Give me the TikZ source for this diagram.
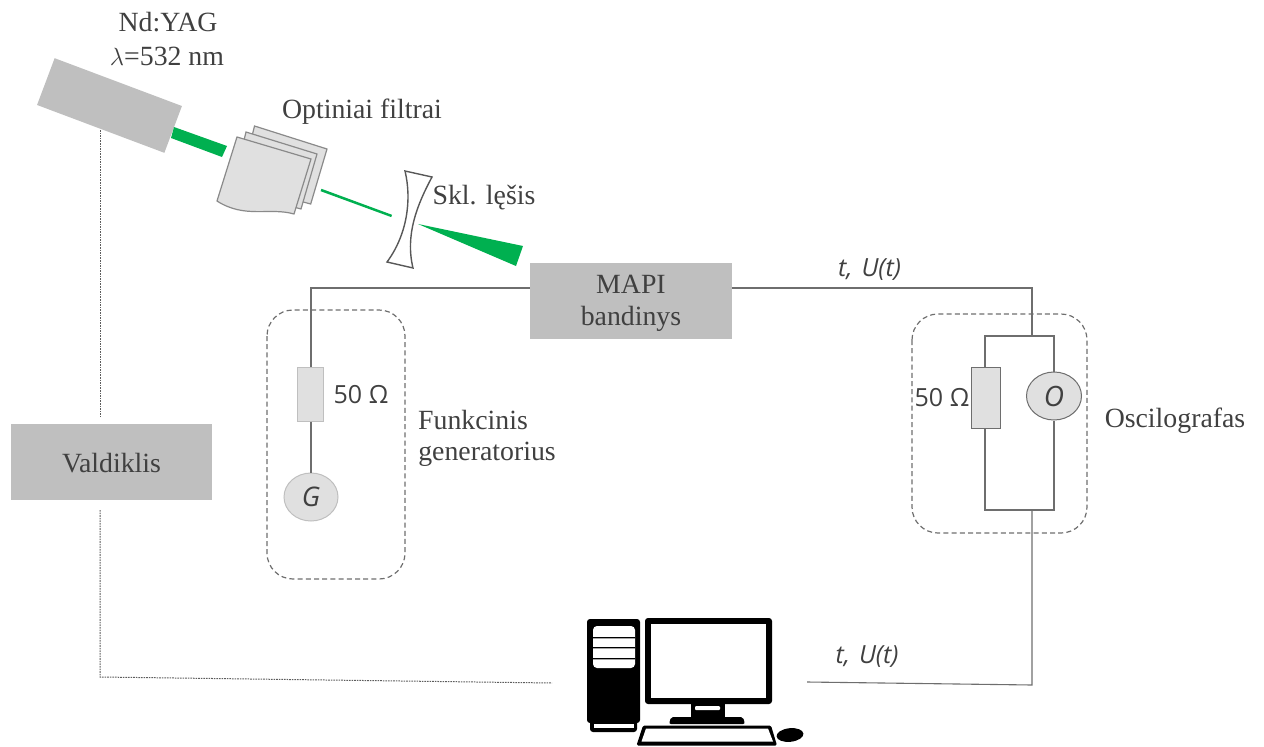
\documentclass[tikz,border=0pt]{standalone}
\usepackage{fontspec}
\setmainfont{Liberation Serif}
\newfontfamily\labsans{Open Sans}
\usetikzlibrary{shapes.geometric}
\definecolor{boxgrey}{HTML}{BFBFBF}
\definecolor{lightgrey}{HTML}{E0E0E0}
\definecolor{beam}{HTML}{00B050}
\definecolor{wire}{HTML}{6E6E6E}
\definecolor{edgegrey}{HTML}{8A8A8A}
\definecolor{txt}{HTML}{404040}
\tikzset{
  x=1pt,y=-1pt,
  serif/.style={text=txt,font=\fontsize{27.8}{33}\selectfont,align=center,inner sep=0pt},
  sanslab/.style={text=txt,font=\labsans\fontsize{25}{28}\selectfont,inner sep=0pt},
  sansit/.style={text=txt,font=\labsans\itshape\fontsize{25}{28}\selectfont,inner sep=0pt},
  greybox/.style={fill=boxgrey,draw=none,inner sep=0pt},
  wireline/.style={draw=wire,line width=1.1pt},
  dotline/.style={draw=wire!85!black,line width=1pt,dash pattern=on 1.6pt off 1pt},
  groupbox/.style={draw=wire,line width=1.2pt,dash pattern=on 5pt off 3.2pt,rounded corners=26pt},
  resistor/.style={fill=lightgrey,inner sep=0pt},
  source/.style={ellipse,fill=lightgrey,inner sep=0pt},
  filterpage/.style={fill=lightgrey,draw=edgegrey,line width=1.2pt},
  greenbeam/.style={fill=beam,draw=none},
}
\begin{document}
\begin{tikzpicture}
\useasboundingbox (0,0) rectangle (1264,747);
% group outlines
\draw[groupbox] (267,310) rectangle (405,579);
\draw[groupbox] (912,314) rectangle (1087,533);
% laser and beam
\node[fill=boxgrey,minimum width=136pt,minimum height=50pt,inner sep=0pt,rotate=-20.6] (laser) at (109.5,105.5) {};
\fill[greenbeam] (174,127) -- (227,146) -- (222,157) -- (171,138) -- cycle;
% filters
\draw[filterpage] (254.5,126) -- (327,149) -- (310.7,204) -- (240,185) -- cycle;
\draw[filterpage] (246,132) -- (317,154) -- (301,209) -- (232,190) -- cycle;
\draw[filterpage] (237,137) -- (311,159) -- (294,214) .. controls (270,207) and (245,219) .. (217,201) -- cycle;
\fill[greenbeam] (321.5,188.8) -- (392,214.8) -- (391.2,217.1) -- (320.6,191.2) -- cycle;
% lens
\draw[fill=white,draw=wire!80!black,line width=1.4pt] (405,171) -- (432,177) .. controls (417,205) and (405,235) .. (413,268) -- (387,262) .. controls (407,235) and (412,200) .. (405,171) -- cycle;
\fill[greenbeam] (418,224) -- (523,246) -- (516,266) -- cycle;
% boxes
\node[greybox,minimum width=202pt,minimum height=76pt] (mapi) at (631,301) {};
\node[greybox,minimum width=201pt,minimum height=76pt] (valdiklis) at (111.5,462) {};
\node[serif] (mapitext) at (631,284) {MAPI};
\node[serif] (bandinys) at (631,318.5) {bandinys};
\node[serif] (valdtext) at (111.5,463) {Valdiklis};
% generator branch
\node[resistor,draw=boxgrey,line width=1pt,minimum width=26pt,minimum height=54pt] (rg) at (310,394) {};
\node[source,draw=boxgrey,line width=1pt,minimum width=54pt,minimum height=48pt,font=\labsans\itshape\fontsize{27}{28}\selectfont,text=txt] (g) at (311,497) {G};
% oscilloscope branch
\node[resistor,draw=wire,line width=1pt,minimum width=29pt,minimum height=61pt] (ro) at (985.5,397.5) {};
\node[source,draw=wire,line width=1pt,minimum width=55pt,minimum height=48pt,font=\labsans\itshape\fontsize{28}{28}\selectfont,text=txt] (o) at (1054,396) {O};
% named junctions
\coordinate (gcorner) at (311,288);
\coordinate (ocorner) at (1032,288);
\coordinate (otop) at (1032,336);
\coordinate (obot) at (1032,510);
\coordinate (tl) at (985,336);
\coordinate (tr) at (1054,336);
\coordinate (bl) at (985,510);
\coordinate (br) at (1054,510);
\coordinate (pcin) at (1032,685);
\coordinate (pcwire) at (807,682);
\coordinate (laserdrop) at (100,130);
\coordinate (vtop) at (100,417);
\coordinate (vbot) at (100,510);
\coordinate (dotcorner) at (100,677);
\coordinate (dotend) at (552,683);
% wires
\draw[wireline] (mapi.west |- gcorner) -- (gcorner) -- (rg.north -| gcorner);
\draw[wireline] (rg.south -| g.north) -- (g.north);
\draw[wireline] (mapi.east |- ocorner) -- (ocorner) -- (otop);
\draw[wireline] (ro.north -| tl) -- (tl) -- (tr) -- (o.north);
\draw[wireline] (ro.south -| bl) -- (bl) -- (br) -- (o.south);
\draw[wireline] (obot) -- (pcin) -- (pcwire);
\draw[dotline] (laserdrop) -- (vtop);
\draw[dotline] (vbot) -- (dotcorner) -- (dotend);
% computer
\fill[black,rounded corners=3pt] (587,619) rectangle (640,723);
\fill[black,rounded corners=3pt] (590,720) rectangle (637,732);
\fill[white,rounded corners=4pt] (593,626) rectangle (635,668);
\fill[black] (593,637) rectangle (635,638.4) (593,647) rectangle (635,648.4) (593,658) rectangle (635,659.4);
\fill[white] (594,724) rectangle (634,728);
\fill[black,rounded corners=3pt] (645,618) rectangle (772,704);
\fill[white] (651,624) rectangle (766,698);
\fill[black] (691,704) rectangle (725,717);
\fill[white,rounded corners=1pt] (695,706) rectangle (720,710);
\fill[black,rounded corners=2pt] (671,717) -- (743,717) -- (745,724) -- (669,724) -- cycle;
\fill[black,rounded corners=1.5pt] (643,725.5) -- (771,725.5) -- (777,745.5) -- (636.5,745.5) -- cycle;
\fill[white] (646,728.5) -- (768,728.5) -- (773,741.5) -- (641.5,741.5) -- cycle;
\fill[black,rotate around={6:(790,735)}] (790,735) ellipse [x radius=13.5pt,y radius=6.8pt];
% labels
\node[serif] (ndyag) at (168,22) {Nd:YAG};
\node[serif] (lambda) at (167,56) {$\lambda$=532 nm};
\node[serif] (optiniai) at (362,112) {Optiniai filtrai};
\node[serif] (sklesis) at (484,198) {Skl. lęšis};
\node[serif] (funk) at (473,420) {Funkcinis};
\node[serif] (gener) at (487,454) {generatorius};
\node[serif] (oscil) at (1175,421) {Oscilografas};
\node[sanslab] (r50g) at (361,395) {50 Ω};
\node[sanslab] (r50o) at (942,398) {50 Ω};
\node[sansit] (tu1) at (869.5,270) {t,\hspace{9pt}U(t)};
\node[sansit] (tu2) at (867,657) {t,\hspace{9pt}U(t)};
\end{tikzpicture}
\end{document}
